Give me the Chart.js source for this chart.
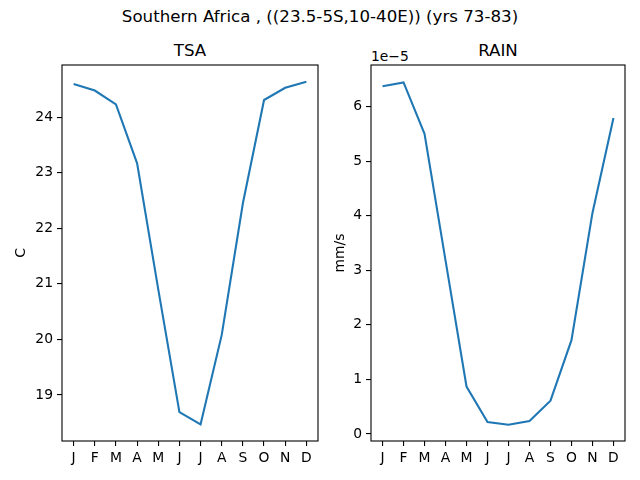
<!DOCTYPE html>
<html>
<head>
<meta charset="utf-8">
<script src="https://cdn.jsdelivr.net/npm/chart.js@4"></script>
<style>
  body { margin: 0; background: #fff; }
  #fig { position: relative; width: 640px; height: 480px; font-family: "DejaVu Sans", sans-serif; color: #000; overflow: hidden; }
  .panel { position: absolute; top: 0; width: 320px; height: 480px; }
  .label { position: absolute; white-space: nowrap; line-height: 20px; text-align: center; }
</style>
</head>
<body>
<div id="fig">
  <div class="label" style="left:0;width:640px;top:6.5px;font-size:16.67px;">Southern Africa , ((23.5-5S,10-40E)) (yrs 73-83)</div>
  <div class="label" style="left:62px;width:256px;top:40.9px;font-size:16.67px;">TSA</div>
  <div class="label" style="left:371px;width:254px;top:40.9px;font-size:16.67px;">RAIN</div>
  <div class="label" style="left:371px;top:47.7px;font-size:13.89px;line-height:16px;text-align:left;">1e&minus;5</div>
  <div class="panel" style="left:0"><canvas id="tsa-chart" width="320" height="480"></canvas></div>
  <div class="panel" style="left:320px"><canvas id="rain-chart" width="320" height="480"></canvas></div>
</div>
<script>
// Monthly climatology, Southern Africa, yrs 73-83
const months = ["J", "F", "M", "A", "M", "J", "J", "A", "S", "O", "N", "D"];
const tsa = [24.60, 24.48, 24.23, 23.17, 20.90, 18.69, 18.47, 20.08, 22.45, 24.31, 24.53, 24.64]; // C
const rain = [6.37, 6.44, 5.50, 3.18, 0.87, 0.22, 0.17, 0.24, 0.61, 1.72, 4.05, 5.79]; // mm/s, x 1e-5

const lineColor = "#1f77b4";
const tickFont = { family: "DejaVu Sans", size: 13.89 };

// Draw all four spines like a matplotlib axes box
const framePlugin = {
  id: "frame",
  afterDraw(chart) {
    const { ctx, chartArea: a } = chart;
    ctx.save();
    ctx.strokeStyle = "#000";
    ctx.lineWidth = 1.1;
    ctx.strokeRect(a.left, a.top, a.right - a.left, a.bottom - a.top);
    ctx.restore();
  },
};

const axisTicks = {
  drawOnChartArea: false,
  drawTicks: true,
  tickLength: 5,
  color: "#000",
  lineWidth: 1.1,
};

const lineChartOptions = (values, yLabel, yMin, yMax, yWidth, titlePad, rightPad) => ({
  type: "line",
  data: {
    datasets: [
      {
        data: values.map((v, i) => ({ x: i, y: v })),
        borderColor: lineColor,
        borderWidth: 2.08,
        pointRadius: 0,
        tension: 0,
        fill: false,
      },
    ],
  },
  options: {
    responsive: false,
    animation: false,
    events: [],
    layout: { padding: { top: 65, right: rightPad, left: 0, bottom: 0 } },
    plugins: { legend: { display: false }, tooltip: { enabled: false } },
    scales: {
      x: {
        type: "linear",
        min: -0.55,
        max: 11.55,
        grid: axisTicks,
        border: { display: false },
        ticks: {
          stepSize: 1,
          includeBounds: false,
          autoSkip: false,
          maxRotation: 0,
          padding: 4,
          color: "#000",
          font: tickFont,
          callback: (v) => months[v],
        },
        afterFit: (scale) => { scale.height = 39; },
      },
      y: {
        min: yMin,
        max: yMax,
        grid: axisTicks,
        border: { display: false },
        ticks: {
          stepSize: 1,
          includeBounds: false,
          padding: 4,
          color: "#000",
          font: tickFont,
        },
        title: {
          display: true,
          text: yLabel,
          color: "#000",
          font: tickFont,
          padding: { top: titlePad, bottom: 0 },
        },
        afterFit: (scale) => { scale.width = yWidth; },
      },
    },
  },
  plugins: [framePlugin],
});

const tsaChart = new Chart(
  document.getElementById("tsa-chart").getContext("2d"),
  lineChartOptions(tsa, "C", 18.17, 24.94, 62, 12.6, 2)
);

const rainChart = new Chart(
  document.getElementById("rain-chart").getContext("2d"),
  lineChartOptions(rain, "mm/s", -0.128, 6.76, 51, 11.6, 15)
);
</script>
</body>
</html>
